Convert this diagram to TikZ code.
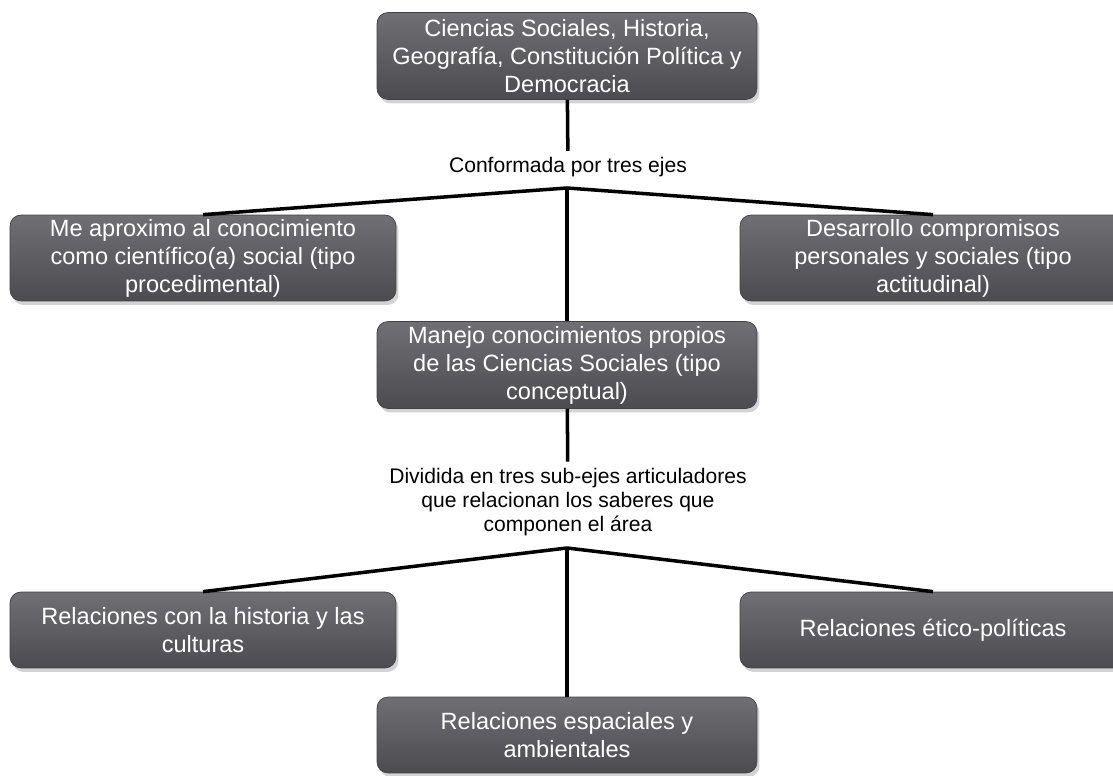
\documentclass[tikz,border=0pt]{standalone}
\usepackage{fontspec}
\setmainfont{Liberation Sans}
\usetikzlibrary{shadows}
\definecolor{boxtop}{RGB}{112,111,116}
\definecolor{boxbot}{RGB}{76,75,80}

\begin{document}
\begin{tikzpicture}[x=0.02cm, y=-0.02cm,
        box/.style={rounded corners=0.22cm, top color=boxtop, bottom color=boxbot,
            draw=boxbot!85!black, line width=0.4pt, text=white, align=center, inner sep=0pt,
            font=\fontsize{13.4}{15.9}\selectfont,
            drop shadow={shadow xshift=0.05cm, shadow yshift=-0.08cm, opacity=0.35}},
        sidebox/.style={box, minimum width=7.72cm, minimum height=1.72cm},
        centerbox/.style={box, minimum width=7.6cm, minimum height=1.74cm},
        note/.style={align=center, font=\fontsize{12}{13.8}\selectfont},
        line/.style={line width=2pt}]
        \clip (0, 0) rectangle (1113, 776);

        \node[centerbox] (area) at (567, 56) {Ciencias Sociales, Historia,\\Geografía, Constitución Política y\\Democracia};
        \node[note] (lab1) at (568, 167) {Conformada por tres ejes};
        \coordinate (j1) at (567, 188);

        \node[sidebox] (proc) at (203, 258) {Me aproximo al conocimiento\\como científico(a) social (tipo\\procedimental)};
        \node[sidebox] (acti) at (933, 258) {Desarrollo compromisos\\personales y sociales (tipo\\actitudinal)};
        \node[centerbox] (conc) at (567, 365) {Manejo conocimientos propios\\de las Ciencias Sociales (tipo\\conceptual)};

        \node[note] (lab2) at (568, 502) {Dividida en tres sub-ejes articuladores\\que relacionan los saberes que\\componen el área};
        \coordinate (j2) at (567, 548);

        \node[sidebox, minimum height=1.52cm] (hist) at (203, 630) {Relaciones con la historia y las\\culturas};
        \node[sidebox, minimum height=1.52cm] (etic) at (933, 630) {Relaciones ético-políticas};
        \node[centerbox, minimum height=1.52cm] (espa) at (567, 735) {Relaciones espaciales y\\ambientales};

        \draw[line] (area) -- (lab1);
        \foreach \n in {proc, conc, acti} {
            \draw[line] (j1) -- (\n.north);
        }
        \draw[line] (conc) -- (lab2);
        \foreach \n in {hist, espa, etic} {
            \draw[line] (j2) -- (\n.north);
        }
    \end{tikzpicture}
\end{document}
